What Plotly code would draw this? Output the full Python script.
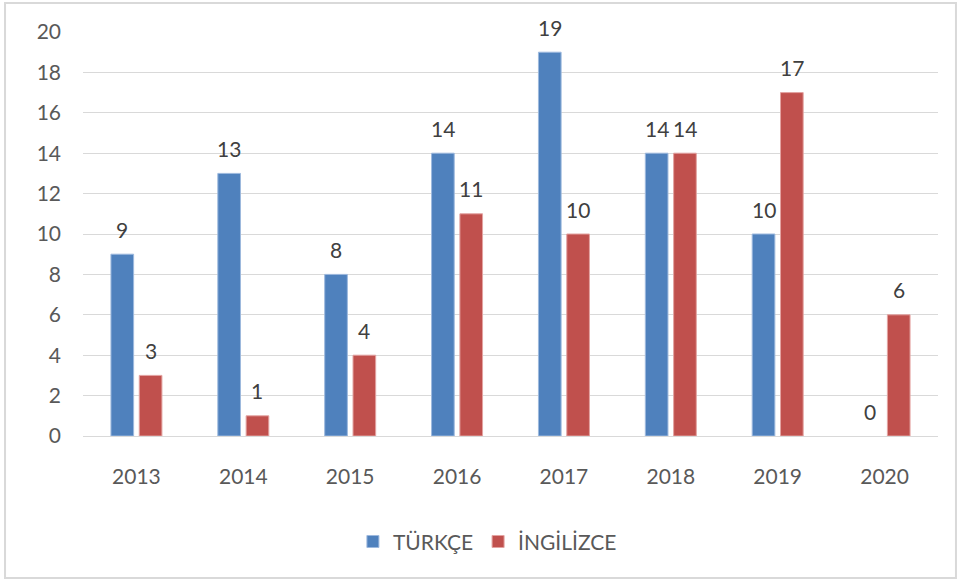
import plotly.graph_objects as go

years = ["2013", "2014", "2015", "2016", "2017", "2018", "2019", "2020"]
turkce = [9, 13, 8, 14, 19, 14, 10, 0]
ingilizce = [3, 1, 4, 11, 10, 14, 17, 6]
y_ticks = [0, 2, 4, 6, 8, 10, 12, 14, 16, 18, 20]

BLUE = "#4F81BD"
RED = "#C0504D"
FONT = "Lato, 'Open Sans', sans-serif"
FS = 21

fig = go.Figure()
fig.add_trace(go.Bar(x=years, y=turkce, name="TÜRKÇE",
                     marker=dict(color=BLUE, line=dict(color="#9DB9DE", width=[1 if v > 0 else 0 for v in turkce])),
                     offsetgroup="a"))
fig.add_trace(go.Bar(x=years, y=ingilizce, name="İNGİLİZCE",
                     marker=dict(color=RED, line=dict(color="#E3A3A1", width=[1 if v > 0 else 0 for v in ingilizce])),
                     offsetgroup="b"))

annotations = []
bargap = 0.47
bgg = 0.2
grp = 1 - bargap
for i, yr in enumerate(years):
    for j, vals in enumerate([turkce, ingilizce]):
        off = (-grp / 4) if j == 0 else (grp / 4)
        annotations.append(dict(x=i + off, y=vals[i], xref="x", yref="y", text=str(vals[i]),
                                showarrow=False, yshift=25, yanchor="middle",
                                font=dict(size=FS, color="#404040", family=FONT)))

fig.update_layout(
    width=959, height=583,
    margin=dict(l=83, r=21, t=32, b=147),
    paper_bgcolor="white", plot_bgcolor="white",
    barmode="group", bargap=bargap, bargroupgap=bgg,
    font=dict(family=FONT, color="#595959", size=FS),
    showlegend=True,
    legend=dict(orientation="h", x=0.473, xanchor="center", y=-0.262, yanchor="middle",
                font=dict(size=FS, color="#595959"), itemwidth=30, traceorder="normal"),
    annotations=annotations,
    shapes=[dict(type="rect", xref="paper", yref="paper", x0=-0.0912, x1=1.021, y0=-0.3515, y1=1.0718,
                 line=dict(color="#D9D9D9", width=2), fillcolor="rgba(0,0,0,0)", layer="below")],
)
fig.update_xaxes(type="category", showgrid=False, showline=True, linecolor="#D9D9D9", linewidth=1,
                 ticks="", tickfont=dict(size=FS, color="#595959"), ticklabelstandoff=22)
fig.update_yaxes(range=[0, 20], tickvals=y_ticks, showgrid=True, gridcolor="#D9D9D9", gridwidth=1,
                 zeroline=False, showline=False, ticks="", tickfont=dict(size=FS, color="#595959"),
                 ticklabelstandoff=21)

fig.write_html("out.html", config={"displayModeBar": False},
               post_script="document.body.style.margin='0';document.body.style.overflow='hidden';")
